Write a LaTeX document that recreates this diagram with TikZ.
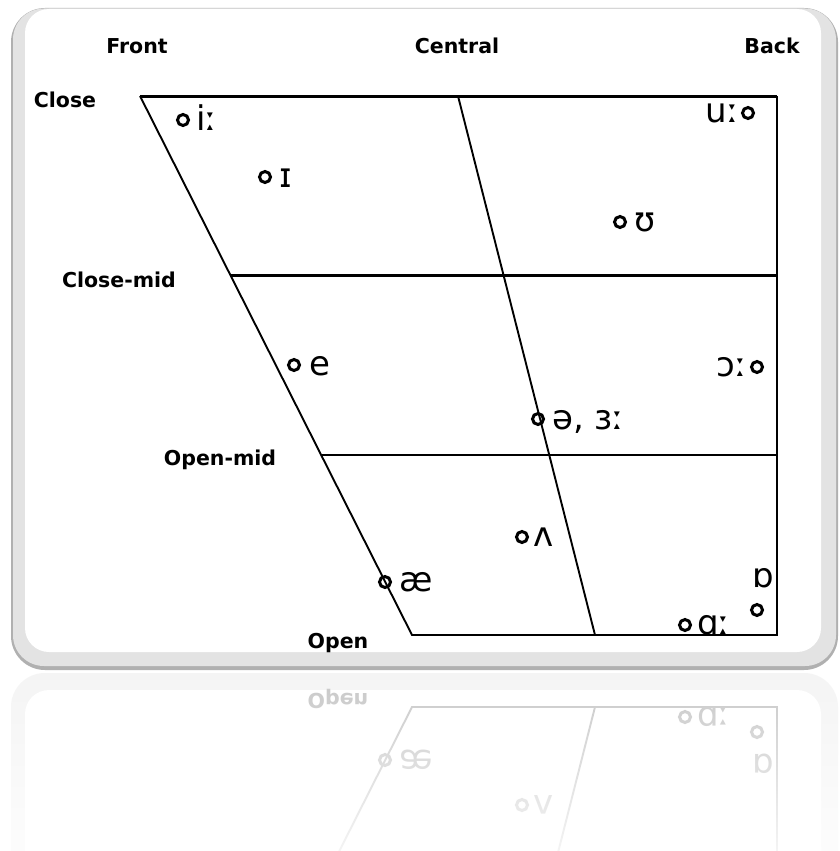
\documentclass[tikz,border=0pt]{standalone}
\usepackage{fontspec}
\setmainfont{DejaVu Sans}
\usetikzlibrary{fadings}
\tikzfading[name=reflfade, top color=transparent!80, bottom color=transparent!15]
\colorlet{ink}{black}
\newcommand\drawchartlines{%
  \coordinate (TL) at (140,96);
  \coordinate (TR) at (777,96);
  \coordinate (BL) at (412,635);
  \coordinate (BR) at (777,635);
  \coordinate (CT) at (458,96);
  \coordinate (CB) at (595,635);
  \coordinate (CML) at (230,275);
  \coordinate (CMR) at (777,275);
  \coordinate (OML) at (321,455);
  \coordinate (OMR) at (777,455);
  \draw[heavyline] (TL) -- (TR);
  \draw[heavyline] (CML) -- (CMR);
  \draw[thinline] (OML) -- (OMR);
  \draw[thinline] (TL) -- (BL) -- (BR) -- (TR);
  \draw[thinline] (CT) -- (CB);
}
\newcommand\drawlowerpart{%
  \node[lbl] (open) at (338,643) {Open};
  \node[vdot] (d8) at (522,537) {};
  \node[vow, anchor=west] (v8) at (533,537) {ʌ};
  \node[vdot] (d9) at (385,582) {};
  \node[vow, anchor=west] (v9) at (399,582) {æ};
  \node[vow] (v10) at (763,578) {ɒ};
  \node[vdot] (d10) at (757,610) {};
  \node[vdot] (d11) at (685,625) {};
  \node[vow, anchor=west] (v11) at (697,625) {ɑː};
}
\newcommand\drawupperpart{%
  \node[lbl] (front) at (137,46) {Front};
  \node[lbl] (central) at (457,46) {Central};
  \node[lbl] (back) at (772,46) {Back};
  \node[lbl] (close) at (65,100) {Close};
  \node[lbl] (closemid) at (119,280) {Close-mid};
  \node[lbl] (openmid) at (220,460) {Open-mid};
  \node[vdot] (d1) at (183,120) {};
  \node[vow, anchor=west] (v1) at (196,121) {iː};
  \node[vdot] (d2) at (265,177) {};
  \node[vow, anchor=west] (v2) at (279,178) {ɪ};
  \node[vdot] (d3) at (620,222) {};
  \node[vow, anchor=west] (v3) at (634,222) {ʊ};
  \node[vdot] (d4) at (748,113) {};
  \node[vow, anchor=east] (v4) at (739,113) {uː};
  \node[vdot] (d5) at (294,365) {};
  \node[vow, anchor=west] (v5) at (309,366) {e};
  \node[vdot] (d6) at (757,367) {};
  \node[vow, anchor=east] (v6) at (747,367) {ɔː};
  \node[vdot] (d7) at (538,419) {};
  \node[vow, anchor=west] (v7) at (552,420) {ə, ɜː};
}
\begin{document}
\begin{tikzpicture}[x=1pt,y=-1pt,
  lbl/.style={font=\fontsize{20.5}{24}\selectfont\bfseries, inner sep=0pt, text=ink},
  vow/.style={font=\fontsize{34}{40}\selectfont, inner sep=0pt, text height=18.6pt, text depth=0pt, text=ink},
  vdot/.style={circle, draw=ink, line width=3pt, minimum size=11pt, inner sep=0pt},
  heavyline/.style={draw=ink, line width=3pt},
  thinline/.style={draw=ink, line width=1.9pt}]
\useasboundingbox (0,0) rectangle (840,851);
\fill[white] (0,0) rectangle (840,851);
% main frame
\fill[gray!62, rounded corners=34] (11,8) rectangle (838,670);
\fill[gray!22, rounded corners=31] (13,8.5) rectangle (836,666);
\fill[white, rounded corners=24] (25,9) rectangle (821,652);
\drawchartlines
\drawupperpart
\drawlowerpart
% reflection
\begin{scope}
  \clip (0,672) rectangle (840,851);
  \fill[gray!10, rounded corners=34] (11,673) rectangle (838,900);
  \fill[white, rounded corners=24] (25,690) rectangle (821,900);
  \begin{scope}[shift={(0,1342)}, yscale=-1, name prefix=r-,
      every node/.append style={transform shape}]
    \colorlet{ink}{gray!55}
    \drawchartlines
    \drawlowerpart
  \end{scope}
  \fill[white, path fading=reflfade] (0,672) rectangle (840,851);
\end{scope}
\end{tikzpicture}
\end{document}
